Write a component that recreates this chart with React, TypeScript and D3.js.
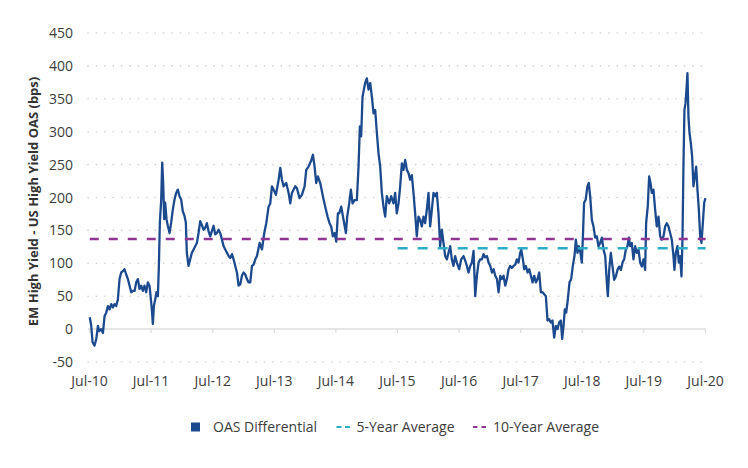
import { useEffect, useRef } from 'react';
import * as d3 from 'd3';

// OAS differential readings (decimal year, bps)
const oasYears = [
  2010.500, 2010.524, 2010.546, 2010.578, 2010.606, 2010.633, 2010.654, 2010.687, 2010.714, 2010.741,
  2010.768, 2010.795, 2010.822, 2010.849, 2010.876, 2010.903, 2010.930, 2010.957, 2010.984, 2011.011,
  2011.038, 2011.065, 2011.092, 2011.120, 2011.147, 2011.174, 2011.201, 2011.228, 2011.255, 2011.282,
  2011.309, 2011.336, 2011.363, 2011.390, 2011.417, 2011.444, 2011.471, 2011.488, 2011.509, 2011.525,
  2011.542, 2011.563, 2011.585, 2011.607, 2011.623, 2011.639, 2011.661, 2011.677, 2011.693, 2011.709,
  2011.726, 2011.747, 2011.769, 2011.796, 2011.823, 2011.850, 2011.877, 2011.904, 2011.931, 2011.958,
  2011.985, 2012.012, 2012.039, 2012.061, 2012.077, 2012.104, 2012.131, 2012.159, 2012.186, 2012.213,
  2012.240, 2012.267, 2012.294, 2012.321, 2012.348, 2012.375, 2012.402, 2012.429, 2012.456, 2012.483,
  2012.510, 2012.537, 2012.564, 2012.591, 2012.618, 2012.646, 2012.673, 2012.700, 2012.727, 2012.754,
  2012.781, 2012.808, 2012.835, 2012.862, 2012.889, 2012.916, 2012.943, 2012.970, 2012.997, 2013.024,
  2013.051, 2013.078, 2013.105, 2013.133, 2013.160, 2013.187, 2013.214, 2013.257, 2013.295, 2013.333,
  2013.365, 2013.403, 2013.430, 2013.457, 2013.484, 2013.522, 2013.566, 2013.593, 2013.620, 2013.647,
  2013.690, 2013.728, 2013.755, 2013.782, 2013.836, 2013.863, 2013.906, 2013.944, 2013.988, 2014.015,
  2014.052, 2014.090, 2014.123, 2014.150, 2014.177, 2014.204, 2014.242, 2014.285, 2014.323, 2014.361,
  2014.393, 2014.420, 2014.447, 2014.475, 2014.502, 2014.529, 2014.550, 2014.583, 2014.621, 2014.659,
  2014.680, 2014.713, 2014.740, 2014.767, 2014.799, 2014.837, 2014.864, 2014.886, 2014.907, 2014.929,
  2014.951, 2014.972, 2014.999, 2015.027, 2015.054, 2015.081, 2015.108, 2015.135, 2015.162, 2015.189,
  2015.216, 2015.243, 2015.270, 2015.297, 2015.324, 2015.362, 2015.394, 2015.432, 2015.459, 2015.486,
  2015.514, 2015.541, 2015.568, 2015.595, 2015.622, 2015.649, 2015.676, 2015.703, 2015.730, 2015.757,
  2015.784, 2015.811, 2015.838, 2015.865, 2015.892, 2015.919, 2015.946, 2015.973, 2016.001, 2016.028,
  2016.055, 2016.082, 2016.109, 2016.136, 2016.163, 2016.190, 2016.217, 2016.244, 2016.271, 2016.298,
  2016.325, 2016.352, 2016.379, 2016.406, 2016.433, 2016.460, 2016.498, 2016.531, 2016.569, 2016.596,
  2016.623, 2016.650, 2016.677, 2016.704, 2016.731, 2016.758, 2016.785, 2016.812, 2016.839, 2016.866,
  2016.893, 2016.920, 2016.948, 2016.975, 2017.002, 2017.029, 2017.056, 2017.083, 2017.110, 2017.137,
  2017.164, 2017.191, 2017.218, 2017.245, 2017.272, 2017.299, 2017.326, 2017.353, 2017.380, 2017.407,
  2017.434, 2017.461, 2017.488, 2017.505, 2017.532, 2017.553, 2017.580, 2017.608, 2017.635, 2017.662,
  2017.689, 2017.716, 2017.743, 2017.770, 2017.797, 2017.824, 2017.851, 2017.878, 2017.905, 2017.932,
  2017.959, 2017.986, 2018.013, 2018.040, 2018.067, 2018.094, 2018.121, 2018.148, 2018.170, 2018.192,
  2018.213, 2018.235, 2018.262, 2018.289, 2018.316, 2018.343, 2018.370, 2018.392, 2018.419, 2018.440,
  2018.467, 2018.489, 2018.505, 2018.526, 2018.553, 2018.580, 2018.602, 2018.625, 2018.652, 2018.679,
  2018.706, 2018.733, 2018.760, 2018.787, 2018.815, 2018.842, 2018.869, 2018.896, 2018.912, 2018.934,
  2018.961, 2018.988, 2019.015, 2019.042, 2019.069, 2019.096, 2019.123, 2019.150, 2019.177, 2019.204,
  2019.231, 2019.253, 2019.274, 2019.301, 2019.328, 2019.356, 2019.383, 2019.410, 2019.437, 2019.464,
  2019.491, 2019.518, 2019.534, 2019.561, 2019.583, 2019.605, 2019.626, 2019.653, 2019.680, 2019.707,
  2019.735, 2019.762, 2019.789, 2019.816, 2019.843, 2019.870, 2019.897, 2019.924, 2019.951, 2019.978,
  2019.994, 2020.016, 2020.043, 2020.065, 2020.086, 2020.108, 2020.124, 2020.140, 2020.156, 2020.173,
  2020.189, 2020.205, 2020.221, 2020.238, 2020.259, 2020.281, 2020.302, 2020.324, 2020.346, 2020.367,
  2020.389, 2020.411, 2020.432, 2020.454, 2020.476, 2020.497,
];

const oasValues = [
  18, 5, -20, -25, -15, 5, -3, 0, -6, 20,
  25, 35, 30, 38, 33, 38, 35, 45, 76, 86,
  88, 91, 83, 76, 66, 56, 58, 58, 71, 76,
  61, 66, 58, 66, 56, 71, 66, 50, 30, 8,
  35, 45, 56, 50, 96, 162, 197, 253, 222, 167,
  192, 167, 157, 146, 162, 182, 197, 207, 212, 202,
  197, 179, 172, 162, 116, 96, 106, 116, 121, 126,
  131, 146, 164, 158, 151, 154, 161, 149, 141, 149,
  157, 144, 146, 151, 146, 136, 126, 121, 116, 111,
  108, 114, 106, 96, 86, 66, 68, 81, 86, 83,
  76, 71, 71, 96, 98, 106, 111, 131, 121, 146,
  161, 186, 191, 217, 212, 204, 227, 245, 227, 217,
  222, 207, 191, 207, 217, 214, 199, 204, 217, 242,
  247, 255, 265, 247, 222, 232, 222, 202, 186, 171,
  161, 156, 141, 146, 133, 176, 176, 186, 166, 146,
  171, 191, 212, 191, 196, 196, 247, 308, 293, 353,
  364, 374, 381, 364, 374, 353, 328, 333, 298, 267,
  247, 207, 186, 171, 202, 191, 202, 191, 207, 176,
  191, 217, 252, 242, 257, 242, 237, 227, 234, 207,
  176, 141, 171, 166, 156, 171, 161, 181, 207, 156,
  181, 207, 202, 207, 176, 126, 151, 131, 111, 106,
  116, 126, 106, 96, 111, 101, 91, 106, 111, 104,
  96, 86, 96, 101, 119, 50, 81, 101, 106, 106,
  114, 109, 111, 101, 96, 86, 91, 81, 76, 56,
  81, 76, 81, 66, 76, 91, 96, 93, 96, 98,
  106, 101, 116, 121, 106, 91, 96, 86, 91, 81,
  71, 81, 71, 76, 86, 56, 56, 53, 50, 13,
  15, 10, 13, -13, 5, 0, 10, 13, -15, 5,
  30, 25, 45, 71, 76, 96, 111, 136, 116, 126,
  116, 101, 136, 192, 197, 217, 222, 202, 166, 156,
  139, 141, 126, 131, 139, 121, 111, 70, 50, 90,
  116, 95, 75, 80, 90, 95, 90, 101, 106, 121,
  126, 139, 126, 131, 106, 126, 116, 121, 101, 95,
  106, 90, 161, 187, 232, 222, 207, 212, 182, 156,
  171, 141, 136, 141, 156, 161, 156, 146, 136, 111,
  90, 116, 126, 101, 111, 80, 136, 247, 333, 343,
  364, 389, 323, 298, 283, 262, 217, 232, 247, 212,
  182, 141, 131, 161, 192, 199,
];

const fiveYearAvg = 123;
const fiveYearStart = 2015.5;
const tenYearAvg = 137;
const tenYearStart = 2010.5;
const seriesEnd = 2020.5;

const yTicks = [-50, 0, 50, 100, 150, 200, 250, 300, 350, 400, 450];
const xTickYears = [2010, 2011, 2012, 2013, 2014, 2015, 2016, 2017, 2018, 2019, 2020];

const legendItems = ['OAS Differential', '5-Year Average', '10-Year Average'];

const BLUE = '#1c4a8e';
const CYAN = '#2badc4';
const PURPLE = '#8f3592';
const FONT = "'Open Sans', sans-serif";

function toDate(dec: number) {
  const yr = Math.floor(dec);
  const start = Date.UTC(yr, 0, 1);
  const end = Date.UTC(yr + 1, 0, 1);
  return new Date(start + (dec - yr) * (end - start));
}

export default function App() {
  const svgRef = useRef<SVGSVGElement>(null);

  useEffect(() => {
    if (!svgRef.current) return;
    const svg = d3.select(svgRef.current);
    svg.selectAll('*').remove();

    const x = d3.scaleUtc()
      .domain([new Date(Date.UTC(2010, 6, 1)), new Date(Date.UTC(2020, 6, 1))])
      .range([89.5, 705.5]);
    const y = d3.scaleLinear().domain([-50, 450]).range([362, 33]);
    const gridLeft = 88;
    const gridRight = 706;

    // dotted grid
    svg.append('g')
      .selectAll('line')
      .data(yTicks.filter(d => d !== 0))
      .enter().append('line')
      .attr('x1', gridLeft).attr('x2', gridRight)
      .attr('y1', d => y(d)).attr('y2', d => y(d))
      .attr('stroke', '#cfcfcf')
      .attr('stroke-width', 1.6)
      .attr('stroke-linecap', 'round')
      .attr('stroke-dasharray', '0.1 8.3');

    // zero axis + ticks
    svg.append('line')
      .attr('x1', gridLeft).attr('x2', gridRight)
      .attr('y1', y(0)).attr('y2', y(0))
      .attr('stroke', '#dcdcdc').attr('stroke-width', 1.5);

    svg.append('g')
      .selectAll('line')
      .data(xTickYears)
      .enter().append('line')
      .attr('x1', d => x(new Date(Date.UTC(d, 6, 1))))
      .attr('x2', d => x(new Date(Date.UTC(d, 6, 1))))
      .attr('y1', y(0)).attr('y2', y(0) + 4)
      .attr('stroke', '#dcdcdc').attr('stroke-width', 1.2);

    // y tick labels
    svg.append('g')
      .selectAll('text')
      .data(yTicks)
      .enter().append('text')
      .attr('x', 73)
      .attr('y', d => y(d))
      .attr('dy', '0.36em')
      .attr('text-anchor', 'end')
      .attr('font-family', FONT)
      .attr('font-size', 14)
      .attr('fill', '#3c3c3c')
      .text(d => d);

    // x tick labels
    svg.append('g')
      .selectAll('text')
      .data(xTickYears)
      .enter().append('text')
      .attr('x', d => x(new Date(Date.UTC(d, 6, 1))))
      .attr('y', 381)
      .attr('dy', '0.36em')
      .attr('text-anchor', 'middle')
      .attr('font-family', FONT)
      .attr('font-size', 14)
      .attr('fill', '#3c3c3c')
      .text(d => `Jul-${String(d).slice(2)}`);

    // y axis title
    svg.append('text')
      .attr('transform', `translate(33,${(y(-50) + y(450)) / 2 + 4}) rotate(-90)`)
      .attr('dy', '0.36em')
      .attr('text-anchor', 'middle')
      .attr('font-family', FONT)
      .attr('font-size', 13)
      .attr('font-weight', 'bold')
      .attr('fill', '#333')
      .text('EM High Yield - US High Yield OAS (bps)');

    // OAS line
    const pts = oasYears.map((yr, i) => ({ date: toDate(yr), value: oasValues[i] }));
    const line = d3.line<{ date: Date; value: number }>()
      .x(d => x(d.date))
      .y(d => y(d.value));
    svg.append('path')
      .datum(pts)
      .attr('d', line)
      .attr('fill', 'none')
      .attr('stroke', BLUE)
      .attr('stroke-width', 2.3)
      .attr('stroke-linejoin', 'round');

    // averages
    svg.append('line')
      .attr('x1', x(toDate(tenYearStart))).attr('x2', x(toDate(seriesEnd)))
      .attr('y1', y(tenYearAvg)).attr('y2', y(tenYearAvg))
      .attr('stroke', PURPLE).attr('stroke-width', 2.5)
      .attr('stroke-dasharray', '9 10');
    svg.append('line')
      .attr('x1', x(toDate(fiveYearStart))).attr('x2', x(toDate(seriesEnd)))
      .attr('y1', y(fiveYearAvg)).attr('y2', y(fiveYearAvg))
      .attr('stroke', CYAN).attr('stroke-width', 2.5)
      .attr('stroke-dasharray', '10 10');

    // legend
    const lg = svg.append('g').attr('font-family', FONT).attr('font-size', 14).attr('fill', '#3c3c3c');
    const ly = 427;
    lg.append('rect').attr('x', 191).attr('y', ly - 4.5).attr('width', 9).attr('height', 9).attr('fill', BLUE);
    lg.append('text').attr('x', 213).attr('y', ly).attr('dy', '0.36em').text(legendItems[0]);
    lg.append('line').attr('x1', 336.5).attr('x2', 350).attr('y1', ly).attr('y2', ly)
      .attr('stroke', CYAN).attr('stroke-width', 2).attr('stroke-dasharray', '5 3.5');
    lg.append('text').attr('x', 356.5).attr('y', ly).attr('dy', '0.36em').text(legendItems[1]);
    lg.append('line').attr('x1', 473).attr('x2', 486).attr('y1', ly).attr('y2', ly)
      .attr('stroke', PURPLE).attr('stroke-width', 2).attr('stroke-dasharray', '4.5 4');
    lg.append('text').attr('x', 493).attr('y', ly).attr('dy', '0.36em').text(legendItems[2]);
  }, []);

  return (
    <div style={{ position: 'absolute', left: 0, top: 0, width: 748, height: 468, background: '#fff' }}>
      <svg ref={svgRef} width={748} height={468} />
    </div>
  );
}
